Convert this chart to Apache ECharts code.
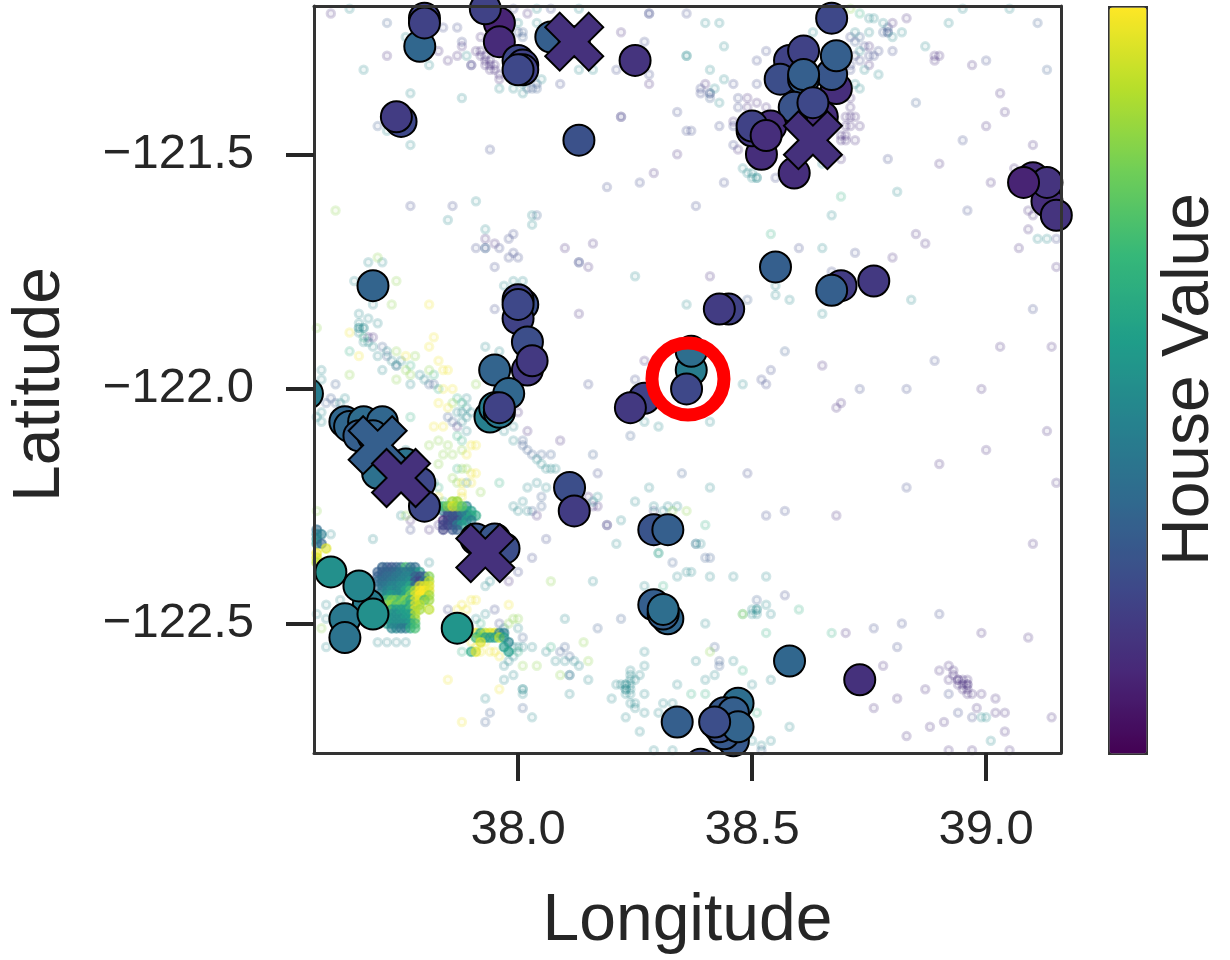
<!DOCTYPE html>
<html><head><meta charset="utf-8">
<script src="https://cdn.jsdelivr.net/npm/echarts@6/dist/echarts.min.js"></script>
<style>html,body{margin:0;padding:0;background:#fff}#c{width:1230px;height:960px}</style>
</head><body><div id="c"></div>
<script>
const lonTicks=[38.0,38.5,39.0];
const latTicks=[-121.5,-122.0,-122.5];
const viridis=['#440154','#482878','#3e4989','#31688e','#26828e','#1f9e89','#35b779','#6ece58','#b5de2b','#fde725'];

// Faint sample, [lon, lat] grouped by the value
const purpleValue=0.13, bluePurpleValue=0.22, blueValue=0.29, tealValue=0.47, greenValue=0.62, limeValue=0.82, yellowValue=0.98;
const purplePoints=[[37.60,-121.20],[37.56,-121.27],[37.72,-121.29],[37.83,-121.28],[37.85,-121.30],[37.87,-121.29],[37.88,-121.27],[37.90,-121.31],[38.22,-121.42],[38.34,-121.50],[38.29,-121.54],[37.93,-121.68],[37.95,-121.69],[38.10,-121.70],[38.16,-121.69],[38.02,-121.20],[38.22,-121.24],[38.28,-121.35],[37.91,-121.28],[37.92,-121.28],[37.92,-121.29],[37.93,-121.29],[37.94,-121.30],[37.93,-121.31],[37.94,-121.32],[37.95,-121.31],[37.95,-121.32],[37.96,-121.33],[37.96,-121.34],[37.92,-121.25],[37.94,-121.27],[37.93,-121.30],[37.94,-121.31],
[38.40,-121.35],[38.49,-121.38],[38.51,-121.39],[38.49,-121.40],[38.53,-121.40],[38.46,-121.43],[38.47,-121.49],[38.71,-121.40],[38.70,-121.42],[38.72,-121.42],[38.71,-121.44],[38.73,-121.44],[38.70,-121.44],[38.69,-121.46],[38.70,-121.46],[38.69,-121.47],[38.72,-121.47],[38.70,-121.47],[38.71,-121.38],[38.71,-121.42],[38.69,-121.51],[38.90,-121.52],[39.01,-121.56],[38.85,-121.67],[38.87,-121.69],[39.07,-121.70],[39.00,-121.44],[39.10,-121.48],[39.04,-121.41],[39.03,-121.37],[38.97,-121.31],[38.90,-121.29],[38.89,-121.29],[38.89,-121.30],[38.75,-121.31],[38.80,-121.22],[38.83,-121.21],[38.83,-121.18],[38.80,-121.72],[38.75,-121.27],[39.09,-121.62],[39.09,-121.66],[39.10,-121.63],[39.06,-121.53],[38.41,-121.76],[39.15,-121.74],[39.03,-121.91],[39.14,-121.91],[38.65,-121.95],[38.99,-122.00],[38.69,-122.03],[38.68,-122.04],[39.13,-122.09],[39.00,-122.13],[38.90,-122.16],[39.15,-122.20],
[38.15,-121.74],[38.13,-121.84],[38.27,-121.94],[38.00,-122.05],[38.02,-122.09],[38.09,-122.11],[38.15,-122.23],[37.87,-122.08],[37.68,-121.89],[37.69,-121.89],[38.17,-122.25],[38.16,-122.25],[38.19,-122.29],[37.98,-122.41],[38.04,-122.27],[38.68,-122.27],[39.10,-122.33],[38.70,-122.52],[38.99,-122.52],[39.09,-122.53],[38.78,-122.59],[38.90,-122.60],[38.92,-122.59],[38.93,-122.60],[38.93,-122.61],[38.92,-122.62],[38.94,-122.62],[38.95,-122.62],[38.96,-122.62],[38.94,-122.63],[38.95,-122.63],[38.96,-122.63],[38.95,-122.64],[38.96,-122.64],[38.94,-122.62],[38.96,-122.63],[38.87,-122.64],[38.96,-122.65],[38.97,-122.65],[38.99,-122.65],[38.81,-122.66],[38.76,-122.68],[39.02,-122.66],[38.98,-122.68],[39.02,-122.69],[39.04,-122.69],[39.14,-122.70],[38.91,-122.71],[38.88,-122.72],[39.04,-122.73],[38.83,-122.74],[38.92,-122.77],[38.97,-122.77],[39.05,-122.77],[37.77,-122.28],[37.81,-122.30],[37.83,-122.29]];
const bluePurplePoints=[[37.77,-121.61],[38.22,-121.42],[37.86,-121.61],[38.28,-121.20],[38.21,-121.32],[38.28,-121.33],[38.09,-121.35],[38.27,-121.26],[38.26,-121.56],[38.19,-121.57],[38.34,-121.41],[38.36,-121.45],[38.95,-121.47],[38.79,-121.51],[38.47,-121.38],[38.47,-121.40],[38.43,-121.44],[38.37,-121.45],[38.46,-121.44],[38.46,-121.48],[38.51,-121.35],[38.51,-121.30],[38.53,-121.28],[38.46,-121.35],[38.44,-121.56],[38.55,-121.55],[38.38,-121.61],[38.96,-121.62],[39.15,-121.68],[39.00,-121.30],[39.10,-121.83],[38.89,-121.94],[38.83,-122.00],[38.73,-122.00],[38.83,-122.21],[38.49,-122.18],[38.54,-121.96],[38.52,-121.98],[38.53,-121.99],[38.57,-122.26],[38.53,-122.27],[38.82,-122.50],[38.90,-122.48],[38.76,-122.51],[38.81,-122.55],[38.57,-122.44],[38.67,-121.75],[38.60,-121.70],[38.72,-121.71],[38.13,-121.73],[37.95,-121.74],[37.95,-121.83],[38.25,-121.98],[38.15,-121.99],[38.17,-122.18],[37.85,-122.47],[37.95,-122.47],[37.96,-122.50],[38.19,-122.29],[38.06,-122.32],[38.03,-122.36],[38.00,-122.39],[38.29,-122.26],[38.97,-122.70],[38.94,-122.69],[38.92,-122.65],[38.75,-121.29],[38.77,-121.28],[38.76,-121.29],[38.80,-121.28],[38.79,-121.23],[38.74,-121.27],[38.72,-121.29],[38.73,-121.30],[38.71,-121.31],[38.71,-121.32],[38.71,-121.25],[38.39,-121.36],[38.39,-121.37],[38.41,-121.37],[37.99,-121.19],[38.07,-121.19],[37.84,-121.23],[37.87,-121.23],[37.88,-121.26],[37.90,-121.31],[37.94,-121.49],[37.98,-121.68],[37.99,-121.67],[37.91,-121.70],[37.96,-121.70],[37.99,-121.71],[38.00,-121.72],[37.98,-121.72],[38.13,-121.73],[38.36,-121.20],[38.28,-121.20],[37.77,-122.30]];
const bluePoints=[[37.72,-121.22],[37.70,-121.44],[38.04,-121.63],[37.93,-121.70],[37.93,-121.70],[38.00,-121.24],[38.01,-121.24],[38.01,-121.25],[38.02,-121.36],[38.03,-121.36],[38.04,-121.36],[38.04,-121.35],[38.41,-121.38],[38.41,-121.37],[38.78,-121.24],[38.79,-121.24],[38.73,-121.25],[37.71,-121.91],[37.72,-121.93],[37.74,-121.95],[37.81,-121.99],[37.82,-121.99],[37.61,-121.99],[37.86,-122.07],[37.85,-122.06],[38.01,-122.12],[38.02,-122.13],[38.01,-122.11],[38.03,-122.14],[38.05,-122.14],[38.07,-122.14],[37.60,-122.02],[37.59,-122.03],[37.61,-122.03],[38.05,-122.23],[38.03,-122.26],[38.05,-122.25],[38.16,-122.14],[38.35,-122.18],[38.24,-122.10],[38.33,-122.37],[38.01,-122.53],[38.09,-122.56],[38.10,-122.55],[38.11,-122.57],[38.11,-122.61],[38.17,-122.51],[38.22,-122.49],[38.01,-122.68],[37.94,-122.69],[37.93,-122.71],[38.40,-122.36],[38.41,-122.36],[38.51,-122.45],[38.42,-122.55],[38.43,-122.58],[38.43,-122.59],[38.52,-122.77],[38.38,-122.33],[39.11,-121.22],[39.13,-121.32],[38.85,-121.39],[38.49,-121.81],[38.57,-121.92],[38.72,-121.26],[38.79,-121.24]];
const tealPoints=[[37.64,-121.19],[37.67,-121.32],[37.76,-121.25],[37.81,-121.20],[37.89,-121.29],[37.81,-121.31],[37.77,-121.37],[37.88,-121.38],[37.72,-121.45],[37.77,-121.48],[37.91,-121.60],[37.85,-121.64],[38.03,-121.63],[38.03,-121.65],[37.93,-121.66],[38.04,-121.19],[38.13,-121.19],[38.04,-121.22],[38.00,-121.22],[38.36,-121.29],[38.16,-121.32],[38.13,-121.32],[38.05,-121.34],[37.96,-121.36],[37.99,-121.36],[38.01,-121.37],[38.01,-121.35],[38.40,-121.22],[38.43,-121.22],[38.44,-121.27],[38.36,-121.29],[38.41,-121.32],[38.44,-121.34],[38.42,-121.36],[38.43,-121.39],[38.65,-121.52],[38.48,-121.53],[38.49,-121.54],[38.50,-121.55],[38.51,-121.55],[38.50,-121.54],[38.51,-121.55],[38.67,-121.63],[38.65,-121.70],[38.81,-121.58],[38.87,-121.27],[38.92,-121.22],[38.95,-121.19],[39.05,-121.19],[38.77,-121.33],[38.74,-121.32],[38.73,-121.28],[38.80,-121.25],[38.82,-121.24],[38.78,-121.22],[38.75,-121.24],[38.75,-121.21],[38.76,-121.21],[38.75,-121.18],[38.78,-121.18],[38.80,-121.18],[38.72,-121.24],[38.72,-121.35],[38.73,-121.36],[38.63,-121.24],[39.11,-121.68],[39.13,-121.68],[38.84,-121.81],[38.65,-121.84],[38.58,-121.81],[38.55,-121.78],[38.55,-121.80],[38.48,-121.99],[38.41,-122.07],[38.41,-122.21],
[37.68,-121.73],[37.71,-121.73],[37.65,-121.77],[37.69,-121.82],[38.25,-121.76],[38.36,-121.82],[37.97,-121.78],[37.99,-121.77],[38.01,-121.77],[37.66,-121.84],[37.68,-121.85],[37.70,-121.86],[37.66,-121.86],[37.66,-121.87],[37.67,-121.87],[37.66,-121.87],[37.67,-121.87],[37.66,-121.88],[37.67,-121.90],[37.68,-121.90],[37.69,-121.91],[37.72,-121.92],[37.70,-121.93],[37.73,-121.94],[37.75,-121.94],[37.74,-121.95],[37.71,-121.96],[37.79,-121.97],[37.80,-121.98],[37.77,-121.99],[37.58,-121.96],[37.58,-121.98],[37.58,-122.05],[37.57,-122.06],[37.58,-122.07],[37.62,-122.03],[37.63,-122.02],[37.89,-122.02],[37.90,-122.05],[37.89,-122.06],[37.88,-122.07],[37.89,-122.09],[37.87,-122.05],[37.88,-122.05],[37.89,-122.04],[37.89,-122.20],[37.93,-121.91],[37.96,-121.92],[37.99,-122.08],[37.97,-122.09],[37.99,-122.11],[38.04,-122.15],[38.05,-122.16],[38.06,-122.17],[38.07,-122.17],[38.08,-122.17],[38.28,-122.21],[38.30,-122.08],[38.27,-122.07],[38.02,-122.21],[38.04,-122.20],[38.06,-122.21],[38.01,-122.24],[38.17,-122.23],[38.16,-122.24],[38.25,-122.24],[38.29,-122.25],[38.32,-122.25],[38.34,-122.25],[37.82,-122.20],[37.85,-122.25],[37.76,-122.13],[37.78,-122.14],[38.00,-122.26],[38.02,-122.26],[37.99,-122.25],[37.75,-122.27],
[38.22,-122.28],[38.21,-122.33],[37.94,-122.41],[37.93,-122.42],[38.16,-122.41],[38.30,-122.35],[38.34,-122.40],[38.27,-122.42],[38.36,-122.39],[38.31,-122.26],[37.60,-122.31],[37.69,-122.32],[37.81,-122.37],[37.71,-122.38],[37.70,-122.54],[37.72,-122.54],[37.74,-122.54],[37.76,-122.54],[37.59,-122.55],[37.59,-122.46],[37.57,-122.48],[37.59,-122.49],[37.62,-122.45],[37.68,-122.45],[37.93,-122.48],[37.91,-122.49],[37.97,-122.51],[38.00,-122.51],[38.00,-122.55],[38.01,-122.55],[37.99,-122.55],[37.98,-122.58],[37.99,-122.57],[37.97,-122.59],[37.99,-122.61],[37.97,-122.62],[38.01,-122.64],[38.01,-122.64],[38.01,-122.65],[37.93,-122.66],[38.03,-122.70],[38.03,-122.55],[38.06,-122.56],[38.08,-122.58],[38.10,-122.58],[38.12,-122.58],[38.13,-122.59],[38.11,-122.61],[38.15,-122.62],[38.11,-122.65],[38.10,-122.49],[38.27,-122.56],[38.27,-122.59],
[38.24,-122.60],[38.24,-122.61],[38.25,-122.62],[38.23,-122.63],[38.24,-122.62],[38.23,-122.64],[38.24,-122.64],[38.23,-122.65],[38.26,-122.61],[38.21,-122.63],[38.22,-122.63],[38.24,-122.65],[38.23,-122.63],[38.24,-122.63],[38.23,-122.64],[38.20,-122.66],[38.25,-122.67],[38.27,-122.65],[38.24,-122.67],[38.25,-122.68],[38.27,-122.69],[38.23,-122.70],[38.26,-122.73],[38.34,-122.63],[38.31,-122.67],[38.33,-122.67],[38.30,-122.69],[38.29,-122.77],[38.33,-122.77],
[38.38,-122.33],[38.39,-122.33],[38.37,-122.39],[38.41,-122.40],[38.46,-122.40],[38.53,-122.40],[38.53,-122.46],[38.50,-122.48],[38.51,-122.47],[38.51,-122.47],[38.51,-122.48],[38.50,-122.47],[38.54,-122.48],[38.40,-122.50],[38.38,-122.58],[38.46,-122.58],[38.42,-122.61],[38.40,-122.62],[38.50,-122.63],[38.54,-122.62],[38.58,-122.72],[38.54,-122.75],[38.52,-122.76],[38.50,-122.75],[38.99,-122.70],[39.00,-122.70],[39.01,-122.75]];
const greenPoints=[[37.83,-122.21],[37.84,-122.24],[37.77,-122.06],[37.88,-122.03],[37.87,-122.02],[37.77,-121.95],[37.82,-121.97],[37.83,-122.00],[37.64,-121.92],[37.67,-121.89],[37.87,-122.17],[37.96,-122.20],[37.88,-122.11],[37.87,-122.10],[38.31,-122.42],[37.92,-122.50],[37.88,-122.56],[38.00,-122.56],[38.07,-122.55],[38.69,-121.59],[38.54,-121.67],[38.73,-121.20],[38.60,-122.47],[38.48,-122.48],[38.53,-122.52],[38.67,-122.52],[38.40,-122.29],[38.40,-122.65],[38.37,-122.65],[38.51,-122.69],[38.48,-122.60],[38.30,-122.35]];
const limePoints=[[37.61,-121.62],[37.70,-121.72],[38.71,-121.19],[37.57,-121.87],[37.74,-121.77],[37.73,-121.82],[37.74,-121.92],[37.78,-121.93],[37.76,-121.96],[37.81,-121.96],[37.74,-121.98],[37.77,-121.97],[37.64,-121.97],[37.56,-121.94],[37.91,-121.99],[37.86,-122.03],[37.85,-122.12],[37.88,-122.13],[37.86,-122.14],[37.84,-122.14],[37.83,-122.16],[37.83,-122.11],[37.81,-122.12],[37.88,-122.17],[37.89,-122.17],[37.86,-122.19],[37.87,-122.20],[37.92,-122.22],[37.87,-122.24],[37.57,-122.26],[38.33,-122.26],[38.36,-122.26],[38.07,-122.41],[37.58,-122.51],[37.99,-122.49],[38.00,-122.49],[37.98,-122.50],[38.01,-122.59],[38.04,-122.59],[38.09,-122.61],[38.15,-122.58],[38.14,-122.54],[38.41,-122.56],[38.48,-122.48],[37.76,-122.27]];
const yellowPoints=[[37.81,-121.82],[37.64,-121.88],[37.82,-121.89],[37.81,-121.91],[37.66,-121.93],[37.83,-121.94],[37.76,-121.93],[37.84,-121.96],[37.85,-121.96],[37.84,-122.00],[37.86,-122.00],[37.83,-122.03],[37.85,-122.04],[37.90,-122.12],[37.91,-122.12],[37.89,-122.14],[37.82,-122.08],[37.84,-122.08],[37.90,-122.18],[37.91,-122.18],[37.90,-122.20],[37.88,-122.20],[37.88,-122.22],[37.88,-122.23],[37.83,-122.23],[37.86,-122.24],[37.85,-122.62],[37.87,-122.47],[37.88,-122.46],[37.90,-122.45],[37.91,-122.45],[37.98,-122.46],[37.89,-122.47],[37.90,-122.54],[37.91,-122.55],[37.92,-122.56],[37.93,-122.54],[37.94,-122.56],[37.95,-122.56],[37.96,-122.57],[37.96,-122.64],[37.88,-122.71]];

// Densely stacked regions of the sample, with their own value for each point
const blockLons=[37.70,37.71,37.72,37.73,37.74,37.75,37.76,37.77,37.78,37.79,37.80,37.81];
const blockLats=[-122.38,-122.39,-122.40,-122.41,-122.42,-122.43,-122.44,-122.45,-122.46,-122.47,-122.48,-122.49,-122.50,-122.51];
const blockValues=[
[null,.30,.30,.26,.30,.35,.70,.35,.35,null,null,null],
[.30,.30,.32,.32,.35,.40,.40,.40,.40,.55,null,null],
[.30,.32,.35,.35,.40,.40,.45,.45,.30,.25,.30,.80],
[.35,.35,.35,.40,.40,.45,.45,.50,.25,.20,.40,.90],
[.35,.38,.40,.45,.45,.50,.50,.60,.30,.95,.95,.95],
[null,.40,.45,.50,.45,.50,.60,.70,.90,1,1,.95],
[null,.45,.50,.55,.50,.50,.60,.80,.95,1,1,.85],
[null,null,.70,.80,.80,.70,.85,.60,.95,.95,.70,.85],
[null,null,.80,.85,.70,.80,.70,.60,.95,.90,null,null],
[null,null,.85,.55,.55,.55,.55,.70,.95,.85,null,.90],
[null,null,.60,.50,.50,.55,.55,.55,.90,null,null,null],
[null,null,.55,.50,.50,.50,.55,.55,.85,null,null,null],
[null,null,.55,.50,.50,.50,.50,.55,.70,null,null,null],
[null,null,null,.45,.45,.40,.40,.60,.70,null,null,null]];
const densePoints=[[37.86,-122.24,.85],[37.87,-122.24,.85],[37.89,-122.25,.45],[37.90,-122.26,.55],[37.91,-122.27,.6],[37.84,-122.26,.4],[37.85,-122.26,.22],[37.86,-122.26,.28],[37.87,-122.26,.4],[37.88,-122.26,.6],[37.89,-122.26,.6],[37.85,-122.27,.25],[37.86,-122.27,.25],[37.87,-122.27,.25],[37.88,-122.27,.4],[37.89,-122.27,.42],[37.90,-122.27,.6],[37.84,-122.28,.12],[37.85,-122.28,.2],[37.86,-122.28,.25],[37.87,-122.28,.22],[37.88,-122.28,.38],[37.89,-122.28,.55],[37.90,-122.28,.42],[37.84,-122.29,.22],[37.85,-122.29,.2],[37.86,-122.29,.25],[37.87,-122.29,.42],[37.88,-122.29,.55],[37.86,-122.30,.25],[37.87,-122.30,.3],[37.84,-122.30,.2],[37.82,-122.25,.35],[37.83,-122.25,.5],[37.84,-122.25,.7],[37.85,-122.25,.8],[37.80,-122.25,.35],[37.81,-122.25,.4],[37.86,-122.25,.95],[37.87,-122.25,.85],[37.88,-122.25,.75],
[37.56,-122.29,.4],[37.57,-122.30,.35],[37.57,-122.31,.42],[37.58,-122.31,.42],[37.57,-122.32,.45],[37.57,-122.33,.5],[37.58,-122.33,.32],[37.59,-122.34,.95],[37.56,-122.34,.95],[37.57,-122.35,.98],[37.56,-122.36,.98],[37.57,-122.36,.95],[37.57,-122.37,.9],[37.56,-122.38,.95],
[37.91,-122.52,.98],[37.92,-122.52,.6],[37.93,-122.52,.9],[37.94,-122.52,.95],[37.95,-122.52,.95],[37.96,-122.52,.42],[37.97,-122.52,.42],[37.91,-122.53,.62],[37.92,-122.53,.8],[37.93,-122.53,.55],[37.94,-122.53,.55],[37.95,-122.53,.55],[37.96,-122.53,.9],[37.97,-122.53,.55],[37.98,-122.54,.45],[37.97,-122.55,.55],[37.98,-122.56,.55],[37.90,-122.56,.6],[37.91,-122.56,.95],[37.92,-122.54,.95]];

// Highlighted properties, [lon, lat, value], in drawing order
const highlightPoints=[[37.79,-121.27,.33],[37.80,-121.21,.2],[37.80,-121.22,.2],[37.96,-121.22,.1],[37.93,-121.19,.2],[37.96,-121.26,.12],[38.00,-121.30,.22],[38.01,-121.31,.2],[38.01,-121.32,.2],[38.00,-121.32,.22],[38.07,-121.25,.3],[38.12,-121.26,.15],[38.25,-121.30,.15],[37.75,-121.43,.22],[37.74,-121.42,.18],[38.13,-121.47,.25],
[38.67,-121.21,.22],[38.58,-121.30,.2],[38.56,-121.34,.24],[38.61,-121.28,.2],[38.68,-121.36,.13],[38.67,-121.33,.27],[38.68,-121.29,.3],[38.61,-121.34,.3],[38.61,-121.33,.3],[38.59,-121.40,.26],[38.65,-121.42,.13],[38.52,-121.50,.13],[38.54,-121.44,.13],[38.50,-121.45,.17],[38.50,-121.44,.2],[38.53,-121.46,.13],[38.59,-121.54,.13],
[39.10,-121.55,.13],[39.13,-121.60,.13],[39.13,-121.56,.15],[39.15,-121.63,.15],[39.08,-121.56,.1],
[38.55,-121.74,.3],[38.45,-121.83,.2],[38.43,-121.83,.18],[38.69,-121.78,.18],[38.67,-121.79,.3],[38.76,-121.77,.17],
[37.69,-121.78,.32],[38.01,-121.82,.25],[38.00,-121.81,.2],[38.00,-121.85,.2],[38.00,-121.82,.22],[38.02,-121.90,.24],[38.02,-121.96,.17],[38.03,-121.94,.17],[37.95,-121.96,.32],[37.98,-122.01,.33],[37.94,-122.06,.43],[37.95,-122.04,.42],[37.96,-122.05,.4],[37.96,-122.04,.2],
[38.27,-122.02,.2],[38.24,-122.04,.17],[38.37,-121.96,.42],[38.37,-121.92,.36],[38.36,-122.00,.22],
[37.63,-122.07,.33],[37.64,-122.08,.33],[37.67,-122.07,.35],[37.71,-122.07,.33],[37.66,-122.10,.3],[37.69,-122.10,.32],[37.70,-122.18,.37],[37.76,-122.16,.38],[37.79,-122.20,.22],[37.80,-122.25,.22],[38.11,-122.21,.24],[38.12,-122.26,.18],
[37.91,-122.32,.27],[37.95,-122.32,.27],[37.97,-122.34,.24],[37.60,-122.39,.5],[37.68,-122.46,.42],[37.66,-122.42,.46],[37.63,-122.49,.4],[37.69,-122.48,.5],[37.63,-122.53,.38],[37.87,-122.51,.52],
[38.29,-122.30,.26],[38.32,-122.30,.3],[38.29,-122.46,.3],[38.32,-122.49,.33],[38.31,-122.48,.3],[38.31,-122.47,.36],[38.34,-122.71,.3],[38.58,-122.58,.33],[38.73,-122.62,.14],
[38.47,-122.67,.36],[38.46,-122.75,.28],[38.44,-122.735,.28],[38.44,-122.69,.28],[38.46,-122.69,.3],[38.43,-122.72,.25],[38.47,-122.72,.32],[38.42,-122.71,.24]];
// Highlights whose centres lie just past the frame: only the rim shows
const rimPoints=[[37.55,-122.01,.42],[39.19,-121.55,.13],[38.39,-122.80,.24]];
const crossPoints=[[38.12,-121.26,.14],[38.63,-121.47,.14],[37.70,-122.12,.3],[37.75,-122.19,.14],[37.93,-122.35,.14]];
const overCrossPoints=[[38.63,-121.39,.22]];
const circledPoint=[[38.363,-121.979]];

function viridisAt(v,a){
  const p=Math.min(Math.max(v,0),1)*(viridis.length-1),i=Math.min(Math.floor(p),viridis.length-2),t=p-i;
  const c=s=>[1,3,5].map(k=>parseInt(s.substr(k,2),16));
  const A=c(viridis[i]),B=c(viridis[i+1]);
  const m=A.map((x,k)=>Math.round(x+(B[k]-x)*t));
  return 'rgba('+m.join(',')+','+a+')';
}
const faint=(v,pts)=>({type:'scatter',symbolSize:7.5,data:pts,silent:true,
  itemStyle:{opacity:1,color:viridisAt(v,.07),borderColor:viridisAt(v,.2),borderWidth:3}});
const denseData=densePoints.slice();
blockValues.forEach((row,r)=>row.forEach((v,c)=>{if(v!==null)denseData.push([blockLons[c],blockLats[r],v]);}));
const denseStyled=denseData.map(p=>({value:p,itemStyle:{opacity:1,color:viridisAt(p[2],.6),borderColor:viridisAt(p[2],.5),borderWidth:2}}));

const INK='#262626',FRAME='#333333',FONT='"Liberation Sans",Arial,sans-serif';
const bigStyle={borderColor:'#000',borderWidth:2,opacity:1};
const series=[
 faint(purpleValue,purplePoints),faint(bluePurpleValue,bluePurplePoints),faint(blueValue,bluePoints),
 faint(tealValue,tealPoints),faint(greenValue,greenPoints),faint(limeValue,limePoints),faint(yellowValue,yellowPoints),
 {type:'scatter',symbolSize:9,data:denseStyled,silent:true},
 {type:'custom',clip:true,silent:true,data:rimPoints,encode:{x:0,y:1},
  renderItem:(p,api)=>{const c=api.coord([api.value(0),api.value(1)]);
   return {type:'circle',shape:{cx:c[0],cy:c[1],r:15.5},style:{fill:viridisAt(api.value(2),1),stroke:'#000',lineWidth:2}};}},
 {type:'scatter',symbolSize:31,data:highlightPoints,itemStyle:bigStyle,silent:true},
 {type:'scatter',symbol:'path://M-1 -2L0 -1L1 -2L2 -1L1 0L2 1L1 2L0 1L-1 2L-2 1L-1 0L-2 -1Z',symbolSize:58,data:crossPoints,itemStyle:bigStyle,silent:true},
 {type:'scatter',symbolSize:31,data:overCrossPoints,itemStyle:bigStyle,silent:true},
 {type:'scatter',symbolSize:72,data:circledPoint,itemStyle:{opacity:1,color:'rgba(0,0,0,0)',borderColor:'#ff0000',borderWidth:13},silent:true,clip:false}
];
const chart=echarts.init(document.getElementById('c'),null,{renderer:'canvas'});
const line={show:true,onZero:false,lineStyle:{color:FRAME,width:3}};
const tick=vals=>({show:true,length:28,customValues:vals,lineStyle:{color:INK,width:4}});
const lab=(vals,m)=>({show:true,customValues:vals,fontSize:49,fontFamily:FONT,color:INK,margin:m,
  formatter:v=>Number(v).toFixed(1).replace('-','\u2212')});
const nameStyle={fontSize:66,fontFamily:FONT,color:INK};
chart.setOption({
 animation:false,backgroundColor:'#fff',
 grid:{left:314,top:6,width:747,height:747,show:false,outerBoundsMode:'none',containLabel:false},
 xAxis:[{type:'value',min:37.564,max:39.16,z:5,splitLine:{show:false},axisLine:line,axisTick:tick(lonTicks),axisLabel:lab(lonTicks,53),
   name:'Longitude',nameLocation:'middle',nameGap:136,nameTextStyle:nameStyle},
  {type:'value',position:'top',min:37.564,max:39.16,z:5,splitLine:{show:false},axisLine:line,axisTick:{show:false},axisLabel:{show:false}}],
 yAxis:[{type:'value',min:-122.776,max:-121.184,z:5,splitLine:{show:false},axisLine:line,axisTick:tick(latTicks),axisLabel:lab(latTicks,60),
   name:'Latitude',nameLocation:'middle',nameGap:240,nameRotate:90,nameTextStyle:Object.assign({padding:[0,10,0,0]},nameStyle)},
  {type:'value',position:'right',min:-122.776,max:-121.184,z:5,splitLine:{show:false},axisLine:line,axisTick:{show:false},axisLabel:{show:false},
   name:'House Value',nameLocation:'middle',nameGap:96,nameRotate:90,nameTextStyle:nameStyle}],
 visualMap:{type:'continuous',min:0,max:1,dimension:2,seriesIndex:[9,10,11],left:1108,top:6,itemWidth:37,itemHeight:746,
   calculable:false,text:[],padding:0,borderColor:FRAME,borderWidth:3,hoverLink:false,inRange:{color:viridis}},
 series:series
});
</script></body></html>
